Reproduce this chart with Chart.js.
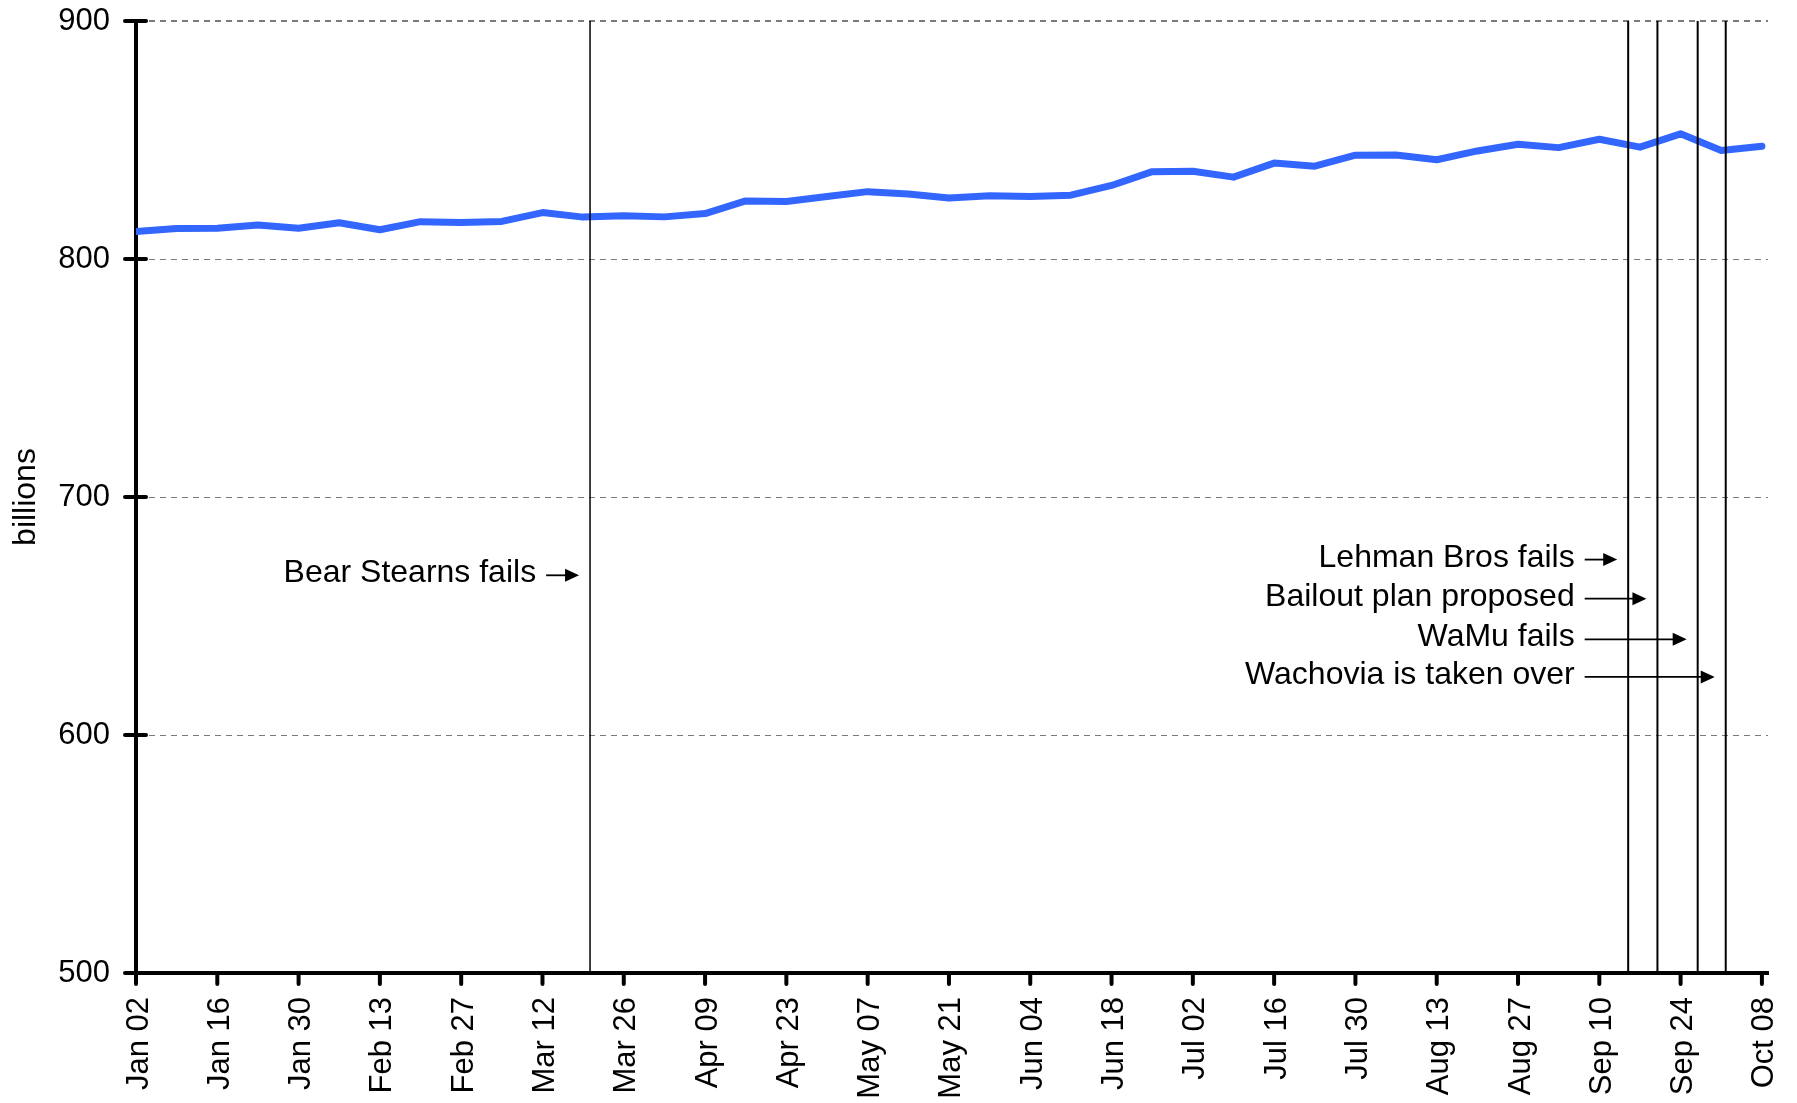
<!DOCTYPE html>
<html>
<head>
<meta charset="utf-8">
<script src="https://cdn.jsdelivr.net/npm/chart.js@4/dist/chart.umd.min.js"></script>
<style>
  html, body { margin: 0; padding: 0; background: #ffffff; }
  #wrap { width: 1797px; height: 1103px; position: relative; }
</style>
</head>
<body>
<div id="wrap"><canvas id="c" width="1797" height="1103"></canvas></div>
<script>
// ---- data (2008, weekly) ----
const weeks = [
  "Jan 02","Jan 09","Jan 16","Jan 23","Jan 30","Feb 06","Feb 13","Feb 20","Feb 27",
  "Mar 05","Mar 12","Mar 19","Mar 26","Apr 02","Apr 09","Apr 16","Apr 23","Apr 30",
  "May 07","May 14","May 21","May 28","Jun 04","Jun 11","Jun 18","Jun 25","Jul 02",
  "Jul 09","Jul 16","Jul 23","Jul 30","Aug 06","Aug 13","Aug 20","Aug 27","Sep 03",
  "Sep 10","Sep 17","Sep 24","Oct 01","Oct 08"
];
const values = [
  811.6, 812.8, 812.9, 814.3, 812.9, 815.2, 812.3, 815.7, 815.3,
  815.8, 819.5, 817.6, 818.2, 817.7, 819.1, 824.4, 824.2, 826.3,
  828.3, 827.3, 825.6, 826.6, 826.3, 826.8, 830.9, 836.7, 836.9,
  834.4, 840.3, 839.0, 843.6, 843.7, 841.7, 845.4, 848.2, 846.8,
  850.3, 847.0, 852.6, 845.6, 847.4
];
const yTicks = [500, 600, 700, 800, 900];
// events: position in weeks after Jan 02
const eventNames = ["Bear Stearns fails", "Lehman Bros fails", "Bailout plan proposed", "WaMu fails", "Wachovia is taken over"];
const eventWeeks = [11.17, 36.71, 37.43, 38.42, 39.11];
const eventLabelY = [667.1, 673.7, 657.3, 640.2, 624.4];
const eventArrowFrom = [10.09, 35.64, 35.64, 35.64, 35.64];

const FONT = "'Liberation Sans', Arial, Helvetica, sans-serif";
const FS = 31;
const FS_NOTE = 32;

const points = weeks.map((w, i) => ({ x: i, y: values[i] }));

const overlay = {
  id: 'overlay',
  afterDatasetsDraw(chart) {
    const { ctx, chartArea } = chart;
    const xs = chart.scales.x;
    ctx.save();
    ctx.strokeStyle = '#000';
    eventWeeks.forEach((w, i) => {
      const px = xs.getPixelForValue(w);
      ctx.lineWidth = i === 0 ? 1.5 : 2;
      ctx.beginPath();
      ctx.moveTo(px, chartArea.top);
      ctx.lineTo(px, chartArea.bottom);
      ctx.stroke();
    });
    ctx.restore();
  },
  afterDraw(chart) {
    const { ctx, chartArea } = chart;
    const xs = chart.scales.x, ys = chart.scales.y;
    ctx.save();
    // axis ticks
    ctx.strokeStyle = '#000';
    ctx.lineWidth = 4;
    ctx.lineCap = 'round';
    yTicks.forEach(v => {
      const py = ys.getPixelForValue(v);
      ctx.beginPath();
      ctx.moveTo(chartArea.left - 11, py);
      ctx.lineTo(chartArea.left + 10, py);
      ctx.stroke();
    });
    for (let i = 0; i < weeks.length; i += 2) {
      const px = xs.getPixelForValue(i);
      ctx.beginPath();
      ctx.moveTo(px, chartArea.bottom);
      ctx.lineTo(px, chartArea.bottom + 11);
      ctx.stroke();
    }
    // annotations
    ctx.lineCap = 'butt';
    ctx.fillStyle = '#000';
    ctx.font = FS_NOTE + 'px ' + FONT;
    ctx.textAlign = 'right';
    ctx.textBaseline = 'alphabetic';
    eventNames.forEach((name, i) => {
      const ay = ys.getPixelForValue(eventLabelY[i]);
      const x0 = xs.getPixelForValue(eventArrowFrom[i]);
      const tip = xs.getPixelForValue(eventWeeks[i]) - 11;
      ctx.fillText(name, x0 - 10, ay + 7);
      ctx.lineWidth = 1.8;
      ctx.beginPath();
      ctx.moveTo(x0, ay);
      ctx.lineTo(tip - 10, ay);
      ctx.stroke();
      ctx.beginPath();
      ctx.moveTo(tip, ay);
      ctx.lineTo(tip - 14, ay - 6.5);
      ctx.lineTo(tip - 14, ay + 6.5);
      ctx.closePath();
      ctx.fill();
    });
    ctx.restore();
  }
};

new Chart(document.getElementById('c'), {
  type: 'line',
  data: {
    datasets: [{
      data: points,
      borderColor: '#3366FF',
      borderWidth: 7,
      pointRadius: 0,
      pointHoverRadius: 0,
      tension: 0,
      fill: false,
      borderCapStyle: 'round',
      borderJoinStyle: 'round'
    }]
  },
  options: {
    responsive: false,
    animation: false,
    events: [],
    layout: { padding: { top: 21, right: 29, bottom: 0, left: 0 } },
    plugins: { legend: { display: false }, tooltip: { enabled: false } },
    scales: {
      x: {
        type: 'linear',
        min: 0,
        max: 40.15,
        afterBuildTicks(scale) {
          const t = [];
          for (let i = 0; i < weeks.length; i += 2) t.push({ value: i });
          scale.ticks = t;
        },
        afterFit(scale) {
          scale.height = 130;
          scale.paddingLeft = 0; scale.paddingRight = 0;
          scale.paddingTop = 0; scale.paddingBottom = 0;
        },
        ticks: {
          autoSkip: false,
          minRotation: 90,
          maxRotation: 90,
          padding: 24,
          labelOffset: 3,
          color: '#000',
          font: { family: FONT, size: FS },
          callback: (v) => weeks[v] || ''
        },
        grid: { display: true, drawOnChartArea: false, drawTicks: false },
        border: { display: true, color: '#000', width: 4 }
      },
      y: {
        min: 500,
        max: 900,
        afterBuildTicks(scale) { scale.ticks = yTicks.map(v => ({ value: v })); },
        afterFit(scale) {
          scale.width = 136;
          scale.paddingLeft = 0; scale.paddingRight = 0;
          scale.paddingTop = 0; scale.paddingBottom = 0;
        },
        ticks: {
          padding: 26,
          color: '#000',
          font: { family: FONT, size: FS }
        },
        title: {
          display: true,
          text: 'billions',
          color: '#000',
          font: { family: FONT, size: FS_NOTE },
          padding: { top: 7, bottom: 0 }
        },
        grid: {
          drawTicks: false,
          color: '#7a7a7a',
          lineWidth: (c) => (c.tick && c.tick.value === 900) ? 2 : (c.tick && c.tick.value === 500 ? 0 : 1)
        },
        border: { display: true, color: '#000', width: 4, dash: [6, 5] }
      }
    }
  },
  plugins: [overlay]
});
</script>
</body>
</html>
